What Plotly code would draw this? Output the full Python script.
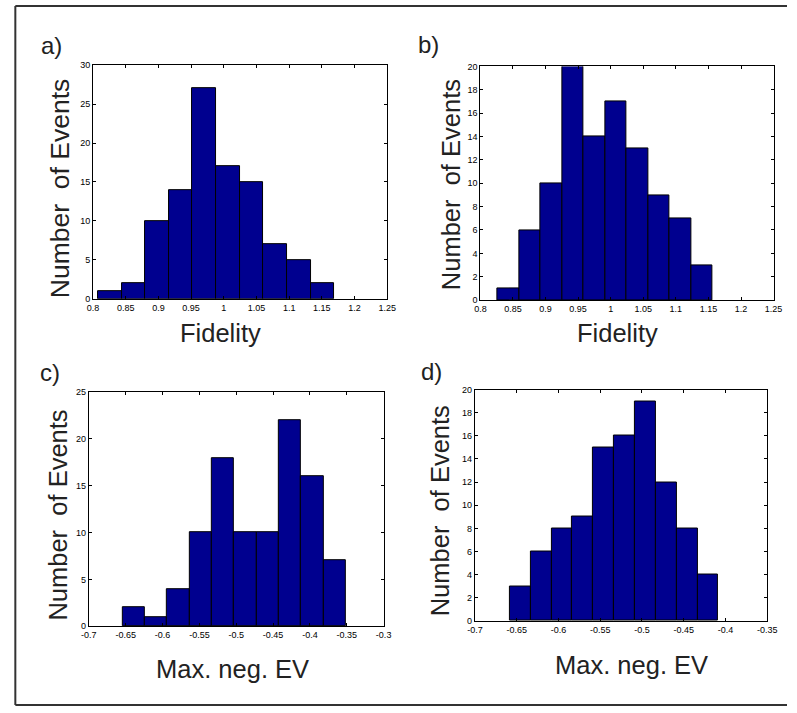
import plotly.graph_objects as go
import numpy as np

W, H = 797, 713

# ---- data ----
fid_a_counts = [1, 2, 10, 14, 27, 17, 15, 7, 5, 2]
fid_a_range = [0.8075, 1.169]
fid_b_counts = [1, 6, 10, 20, 14, 17, 13, 9, 7, 3]
fid_b_range = [0.8265, 1.1565]
ev_c_counts = [2, 1, 4, 10, 18, 10, 10, 22, 16, 7]
ev_c_range = [-0.6545, -0.3513]
ev_d_counts = [3, 6, 8, 9, 15, 16, 19, 12, 8, 4]
ev_d_range = [-0.6583, -0.4085]

fid_ticks = [0.8, 0.85, 0.9, 0.95, 1.0, 1.05, 1.1, 1.15, 1.2, 1.25]
fid_ticktext = ["0.8", "0.85", "0.9", "0.95", "1", "1.05", "1.1", "1.15", "1.2", "1.25"]
ev_c_ticks = [-0.7, -0.65, -0.6, -0.55, -0.5, -0.45, -0.4, -0.35, -0.3]
ev_c_ticktext = ["-0.7", "-0.65", "-0.6", "-0.55", "-0.5", "-0.45", "-0.4", "-0.35", "-0.3"]
ev_d_ticks = [-0.7, -0.65, -0.6, -0.55, -0.5, -0.45, -0.4, -0.35]
ev_d_ticktext = ["-0.7", "-0.65", "-0.6", "-0.55", "-0.5", "-0.45", "-0.4", "-0.35"]

panel_labels = ["a)", "b)", "c)", "d)"]
xlabels = ["Fidelity", "Fidelity", "Max. neg. EV", "Max. neg. EV"]
ylabel = "Number\u00a0 of Events"

FONT = "Liberation Sans, Arial, Helvetica, sans-serif"
BAR = "#00008f"

# pixel boxes of the plot areas: (left, right, top, bottom)
boxes = [(87, 388, 61, 298), (483.3, 783.3, 62.3, 299.3),
         (82.7, 384.3, 392.7, 630), (477.7, 776.7, 390, 624.7)]

panels = [
    (fid_a_counts, fid_a_range, [0.8, 1.25], [0, 30], list(range(0, 31, 5)), fid_ticks, fid_ticktext),
    (fid_b_counts, fid_b_range, [0.8, 1.25], [0, 20], list(range(0, 21, 2)), fid_ticks, fid_ticktext),
    (ev_c_counts, ev_c_range, [-0.7, -0.3], [0, 25], list(range(0, 26, 5)), ev_c_ticks, ev_c_ticktext),
    (ev_d_counts, ev_d_range, [-0.7, -0.35], [0, 20], list(range(0, 21, 2)), ev_d_ticks, ev_d_ticktext),
]

fig = go.Figure()
layout = dict(autosize=True, margin=dict(l=0, r=0, t=0, b=0),
              paper_bgcolor="white", plot_bgcolor="white", showlegend=False,
              font=dict(family=FONT, color="black"), bargap=0)

for i, (counts, rng, xr, yr, yt, xt, xtt) in enumerate(panels):
    n = len(counts)
    w = (rng[1] - rng[0]) / n
    centers = [rng[0] + (k + 0.5) * w for k in range(n)]
    xa = "x" if i == 0 else f"x{i+1}"
    ya = "y" if i == 0 else f"y{i+1}"
    fig.add_trace(go.Bar(x=centers, y=counts, width=[w] * n,
                         marker=dict(color=BAR, line=dict(color="black", width=1)),
                         xaxis=xa, yaxis=ya, hoverinfo="x+y"))
    l, r, t, b = boxes[i]
    axcommon = dict(showline=True, linecolor="black", linewidth=1, mirror="ticks",
                    ticks="inside", ticklen=3, tickcolor="black", showgrid=False,
                    zeroline=False, tickfont=dict(family=FONT, size=9, color="black"),
                    fixedrange=True)
    xkey = "xaxis" if i == 0 else f"xaxis{i+1}"
    ykey = "yaxis" if i == 0 else f"yaxis{i+1}"
    layout[xkey] = dict(domain=[l / W, r / W], range=xr, tickvals=xt, ticktext=xtt,
                        anchor=ya, **axcommon)
    layout[ykey] = dict(domain=[1 - b / H, 1 - t / H], range=yr, tickvals=yt,
                        anchor=xa, **axcommon)

ann = []
label_pos = [(45, 41), (430, 40), (43, 373), (433, 372)]
xlab_pos = [(217.5, 333), (624, 333), (230, 673), (638, 669)]
ylab_pos = [(53.5, 186.5), (453.5, 182.5), (51.5, 517.5), (442, 513.5)]
ylab_size = [26.5, 25.5, 25.5, 25.5]
for i in range(4):
    x, y = label_pos[i]
    ann.append(dict(text=panel_labels[i], x=x / W, y=1 - y / H, xref="paper", yref="paper",
                    showarrow=False, xanchor="center", yanchor="middle",
                    font=dict(family=FONT, size=24, color="#222")))
    x, y = xlab_pos[i]
    ann.append(dict(text=xlabels[i], x=x / W, y=1 - y / H, xref="paper", yref="paper",
                    showarrow=False, xanchor="center", yanchor="middle",
                    font=dict(family=FONT, size=25.5, color="#222")))
    x, y = ylab_pos[i]
    ann.append(dict(text=ylabel, x=x / W, y=1 - y / H, xref="paper", yref="paper",
                    showarrow=False, xanchor="center", yanchor="middle", textangle=-90,
                    font=dict(family=FONT, size=ylab_size[i], color="#222")))
layout["annotations"] = ann

# outer frame (left, top, bottom edges only; right edge lies outside the picture)
fl, ft, fb = 7.5, 1.0, 710.0
frame = dict(type="line", xref="paper", yref="paper", line=dict(color="#333", width=2),
             layer="above")
layout["shapes"] = [
    dict(frame, x0=fl / W, x1=fl / W, y0=1 - fb / H, y1=1 - ft / H),
    dict(frame, x0=fl / W, x1=1.0, y0=1 - ft / H, y1=1 - ft / H),
    dict(frame, x0=fl / W, x1=1.0, y0=1 - fb / H, y1=1 - fb / H),
]
fig.update_layout(**layout)
fig.write_html("out.html", config={"displayModeBar": False, "responsive": True},
               default_width="100vw", default_height="100vh",
               post_script="document.body.style.margin='0';"
                           "document.body.style.overflow='hidden';"
                           "window.dispatchEvent(new Event('resize'));")
